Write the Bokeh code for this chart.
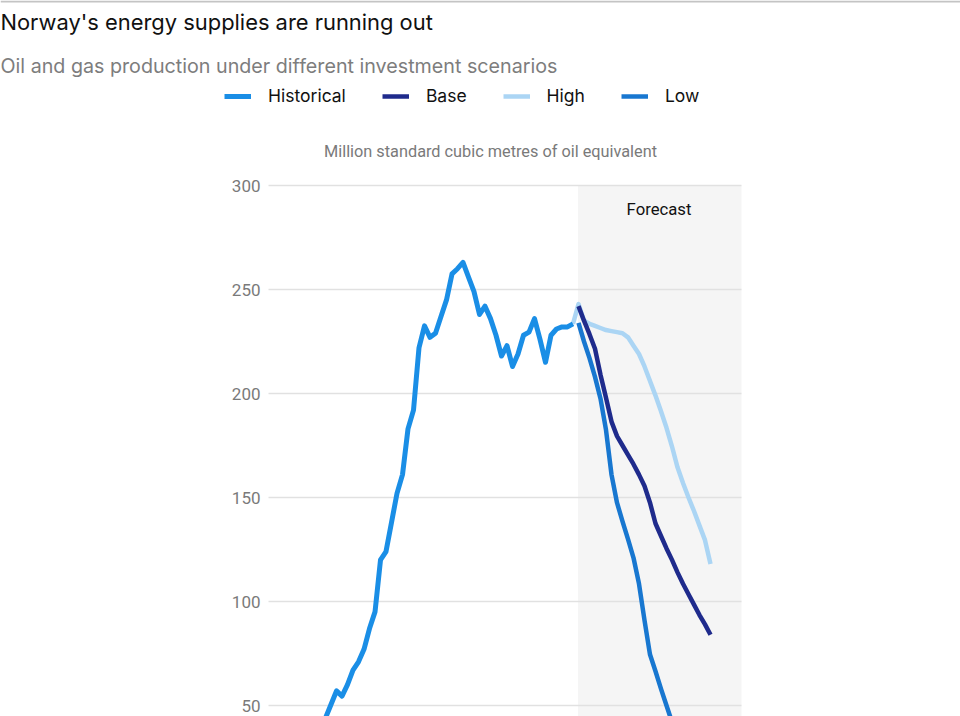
from bokeh.plotting import figure
from bokeh.models import (Range1d, FixedTicker, Label, Legend, LegendItem, BoxAnnotation,
                          ColumnDataSource, Grid)
from bokeh.embed import file_html
from bokeh.resources import INLINE

# ---------------- data ----------------
hist_years = list(range(1971, 2025))
hist_values = [0.4, 1.9, 1.9, 2.0, 11, 17, 26, 35, 44,
               50.5, 57, 54.5, 60, 67, 71, 77, 87, 95, 120,
               124, 138, 152, 161, 183, 192, 222, 232.5, 227, 229,
               237, 245, 257.5, 260, 263, 256, 249, 238, 242, 236,
               228, 218, 223, 213, 219, 228, 229.5, 236, 226, 215,
               228, 231, 232, 232, 233.5]

base_years = list(range(2025, 2050))
base_values = [242, 235, 228.5, 221.5, 209, 198, 186.5, 179.5, 175, 170.5,
               166, 161, 155.5, 147.5, 137.5, 131.5, 125.5, 120, 114, 108.5,
               103.5, 98.5, 93.5, 89, 84]

high_years = list(range(2024, 2050))
high_values = [233.5, 243, 235, 233.5, 232.5, 231.5, 230.5, 230, 229.5, 229,
               227, 223, 219, 213, 206, 199, 191.5, 183.5, 174.5, 164.5,
               157, 150, 143.5, 136.5, 129.5, 118]

low_years = list(range(2025, 2050))
low_values = [234, 225, 217, 208, 197.5, 182.5, 161, 147.5, 138.5, 130,
              121, 108.5, 91, 74.5, 66.5, 58, 50, 42, 36, 31,
              27, 23, 20, 17, 15]

y_ticks = [50, 100, 150, 200, 250, 300]

title_text = "Norway's energy supplies are running out"
subtitle_text = "Oil and gas production under different investment scenarios"
unit_text = "Million standard cubic metres of oil equivalent"
forecast_text = "Forecast"

colors = {"Historical": "#1a8ee6", "Base": "#1f2b8c", "High": "#abd5f4", "Low": "#1877d0"}

# ---------------- layout (page pixels -> data) ----------------
W, H = 960, 716
PXY = 5.5          # pixels per year
PXU = 2.08         # pixels per unit
PLOT_L, PLOT_R, PLOT_T = 268, 741, 185
YEAR_REF, YEAR_REF_PX = 2004, 462.5

def dx(px):
    return YEAR_REF + (px - YEAR_REF_PX) / PXY

def dy(py):
    return y_ticks[-1] - (py - PLOT_T) / PXU

p = figure(width=W, height=H, output_backend="svg", toolbar_location=None,
           x_range=Range1d(dx(0), dx(W)), y_range=Range1d(dy(H), dy(0)),
           x_axis_location=None, min_border=0)
p.outline_line_color = None
p.background_fill_color = "white"
p.border_fill_color = "white"
p.xgrid.grid_line_color = None
p.ygrid.grid_line_color = "#e1e1e1"
p.ygrid.grid_line_width = 1.6
p.ygrid.ticker = FixedTicker(ticks=y_ticks)

tick_font = "Roboto"
yax = p.yaxis[0]
yax.fixed_location = dx(PLOT_L)
yax.ticker = FixedTicker(ticks=y_ticks)
yax.axis_line_color = None
yax.major_tick_line_color = None
yax.minor_tick_line_color = None
yax.major_tick_out = 0
yax.major_tick_in = 0
yax.major_label_standoff = 8
yax.major_label_text_font = tick_font
yax.major_label_text_font_size = "17px"
yax.major_label_text_color = "#7a7a7a"

if "cross_bounds" in Grid.properties():
    p.ygrid.cross_bounds = (dx(PLOT_L), dx(PLOT_R))
    p.ygrid.bounds = (y_ticks[0], y_ticks[-1])
else:
    p.ygrid.grid_line_color = None
    p.segment(x0=[dx(PLOT_L)] * len(y_ticks), x1=[dx(PLOT_R)] * len(y_ticks),
              y0=y_ticks, y1=y_ticks, line_color="#e1e1e1", line_width=1.6, level="underlay")

# forecast shading
shade = ColumnDataSource(dict(left=[base_years[0] - 0.1], right=[dx(PLOT_R)],
                              top=[y_ticks[-1]], bottom=[dy(H)]))
p.quad(left="left", right="right", top="top", bottom="bottom", source=shade,
       fill_color="#f5f5f5", line_color=None, level="image")

r_high = p.line(high_years, high_values, line_color=colors["High"], line_width=4.5, line_join="round")
r_hist = p.line(hist_years, hist_values, line_color=colors["Historical"], line_width=5, line_join="round")
r_low = p.line(low_years, low_values, line_color=colors["Low"], line_width=4.5, line_join="round")
r_base = p.line(base_years, base_values, line_color=colors["Base"], line_width=4.5, line_join="round")

legend = Legend(items=[LegendItem(label="Historical", renderers=[r_hist]),
                       LegendItem(label="Base", renderers=[r_base]),
                       LegendItem(label="High", renderers=[r_high]),
                       LegendItem(label="Low", renderers=[r_low])],
                orientation="horizontal", location=(224, H - 106),
                glyph_width=27, glyph_height=20, label_height=20, label_standoff=17,
                spacing=36, padding=0, margin=0, border_line_color=None,
                background_fill_alpha=0, label_text_font="Inter",
                label_text_font_size="17.5px", label_text_color="#111111",
                label_text_baseline="middle")
p.add_layout(legend, "center")

# top rule
p.add_layout(BoxAnnotation(left=dx(0), right=dx(W), top=dy(0), bottom=dy(2),
                           fill_color="#c4c4c4", fill_alpha=1, line_color=None))

p.add_layout(Label(x=dx(0), y=dy(21), text=title_text, text_font="Inter",
                   text_font_size="21.9px", text_color="#111111", text_baseline="middle"))
p.add_layout(Label(x=dx(0), y=dy(65), text=subtitle_text, text_font="Inter",
                   text_font_size="19.7px", text_color="#7d7d7d", text_baseline="middle"))
p.add_layout(Label(x=dx(490), y=dy(151), text=unit_text, text_font=tick_font,
                   text_font_size="16.3px", text_color="#7a7a7a", text_align="center",
                   text_baseline="middle"))
p.add_layout(Label(x=dx(658.5), y=dy(209), text=forecast_text, text_font=tick_font,
                   text_font_size="16.7px", text_color="#111111", text_align="center",
                   text_baseline="middle"))

open("out.html", "w").write(file_html(p, INLINE))
